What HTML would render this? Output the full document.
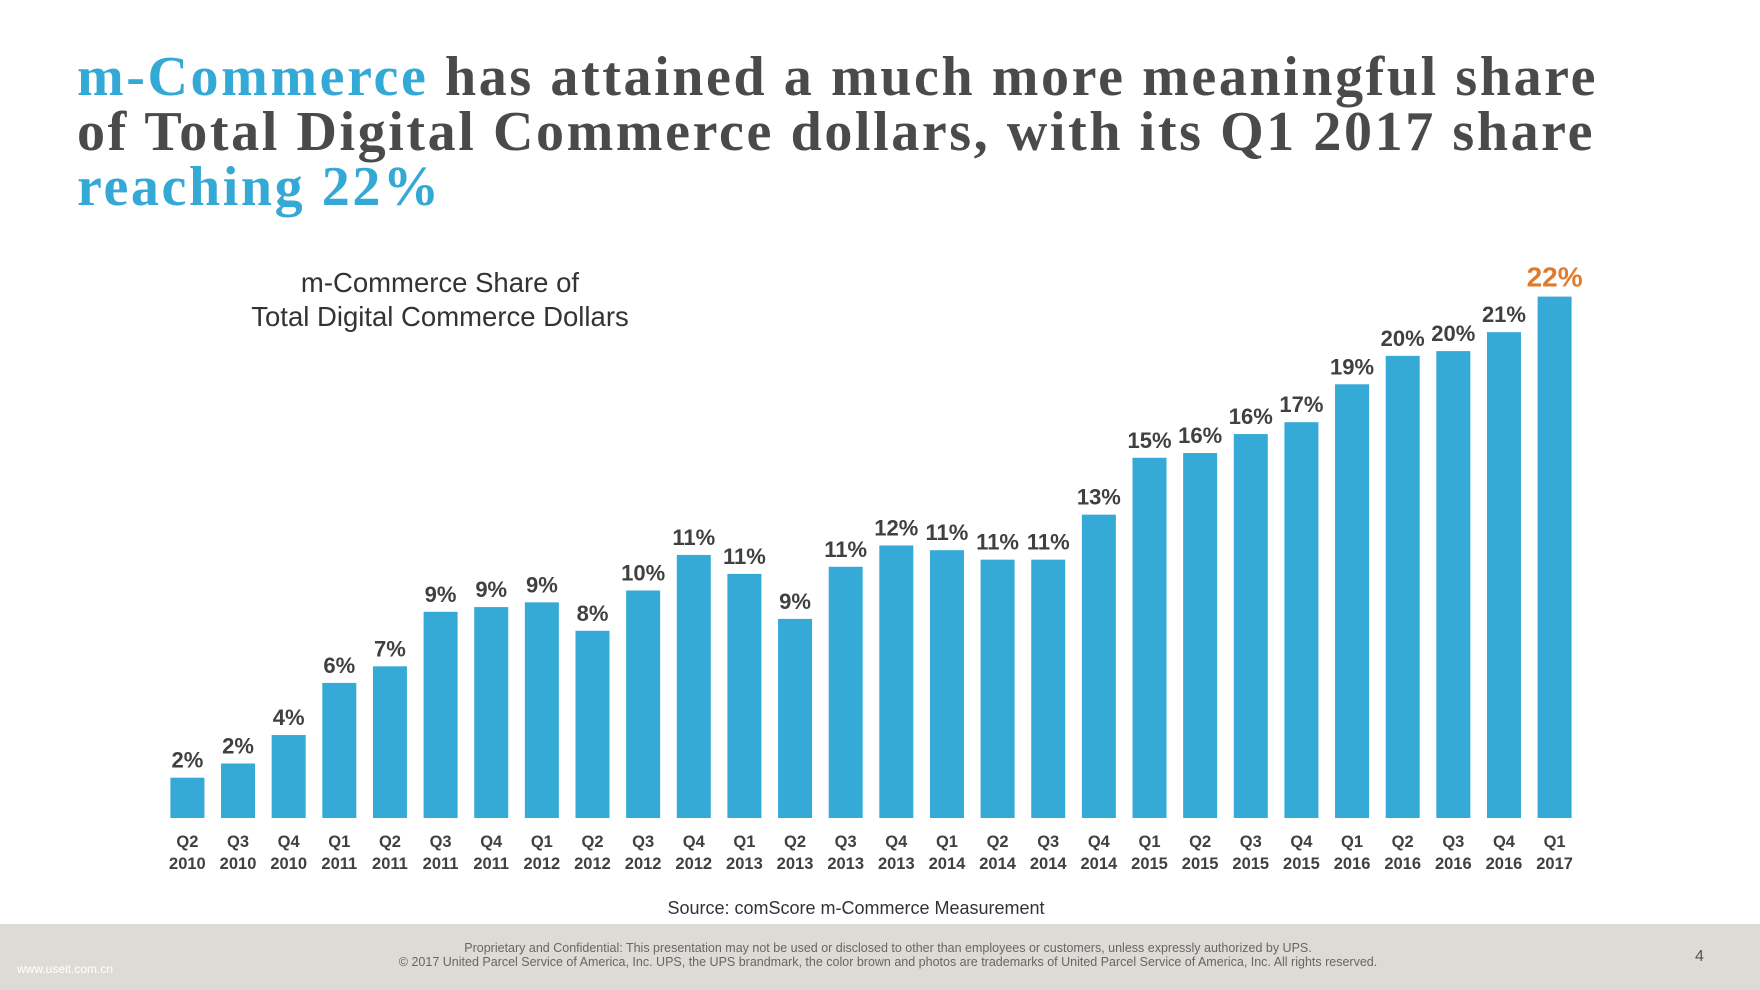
<!DOCTYPE html>
<html><head><meta charset="utf-8"><style>
body{margin:0;width:1760px;height:990px;overflow:hidden;background:#fff;position:relative;font-family:"Liberation Sans",sans-serif}
.t{position:absolute;left:77px;top:50px;font-family:"Liberation Serif",serif;font-weight:bold;font-size:56px;letter-spacing:2.6px;line-height:55px;color:#4a4a4a;margin:0;white-space:nowrap}
.b{color:#35a9d5}
.footer{position:absolute;left:0;top:924px;width:1760px;height:66px;background:#dedbd6}
</style></head><body>
<h1 class="t"><span class="b">m-Commerce</span> has attained a much more meaningful share<br>of Total Digital Commerce dollars, with its Q1 2017 share<br><span class="b">reaching 22%</span></h1>
<svg id="c" width="1760" height="990" style="position:absolute;left:0;top:0">
<text x="440" y="292" text-anchor="middle" font-size="27.5" fill="#333">m-Commerce Share of</text>
<text x="440" y="326" text-anchor="middle" font-size="27.5" fill="#333">Total Digital Commerce Dollars</text>
<g id="bars"></g>
<text x="856" y="914" text-anchor="middle" font-size="18" fill="#333">Source: comScore m-Commerce Measurement</text>
</svg>
<div class="footer">
<div style="position:absolute;left:0;width:1776px;top:17px;text-align:center;font-size:12.5px;line-height:14px;color:#666">Proprietary and Confidential: This presentation may not be used or disclosed to other than employees or customers, unless expressly authorized by UPS.<br>© 2017 United Parcel Service of America, Inc. UPS, the UPS brandmark, the color brown and photos are trademarks of United Parcel Service of America, Inc. All rights reserved.</div>
<div style="position:absolute;left:1695px;top:24px;font-size:16px;color:#555">4</div>
<div style="position:absolute;left:17px;top:38px;font-size:12px;color:#fff">www.useit.com.cn</div>
</div>
<script>
const categories=["Q2 2010","Q3 2010","Q4 2010","Q1 2011","Q2 2011","Q3 2011","Q4 2011","Q1 2012","Q2 2012","Q3 2012","Q4 2012","Q1 2013","Q2 2013","Q3 2013","Q4 2013","Q1 2014","Q2 2014","Q3 2014","Q4 2014","Q1 2015","Q2 2015","Q3 2015","Q4 2015","Q1 2016","Q2 2016","Q3 2016","Q4 2016","Q1 2017"];
const values=[1.7,2.3,3.5,5.7,6.4,8.7,8.9,9.1,7.9,9.6,11.1,10.3,8.4,10.6,11.5,11.3,10.9,10.9,12.8,15.2,15.4,16.2,16.7,18.3,19.5,19.7,20.5,22.0];
const labels=["2%","2%","4%","6%","7%","9%","9%","9%","8%","10%","11%","11%","9%","11%","12%","11%","11%","11%","13%","15%","16%","16%","17%","19%","20%","20%","21%","22%"];
const NS="http://www.w3.org/2000/svg",g=document.getElementById('bars');
const x0=187.4,pitch=(1554.6-187.4)/(categories.length-1),bw=34,base=818,unit=23.7;
const xs=i=>x0+i*pitch, ys=v=>base-v*unit;
function mk(t,a,txt){const e=document.createElementNS(NS,t);for(const k in a)e.setAttribute(k,a[k]);if(txt!=null)e.textContent=txt;g.appendChild(e);return e;}
categories.forEach((c,i)=>{
 const v=values[i],last=i===categories.length-1;
 const r=mk('rect',{x:xs(i)-bw/2,y:ys(v),width:bw,height:base-ys(v),fill:'#35aad6'});
 
 
 const l=mk('text',{x:xs(i),y:ys(v)-10,'text-anchor':'middle','font-size':last?28:22,'font-weight':'bold',fill:last?'#e07b2e':'#404040'},labels[i]);
 
 
 const p=c.split(' ');
 const t1=mk('text',{x:xs(i),y:847,'text-anchor':'middle','font-size':16.5,'font-weight':'bold',fill:'#404040'},p[0]);
 
 
 const t2=mk('text',{x:xs(i),y:869,'text-anchor':'middle','font-size':16.5,'font-weight':'bold',fill:'#404040'},p[1]);
 
 
});
</script>
</body></html>
